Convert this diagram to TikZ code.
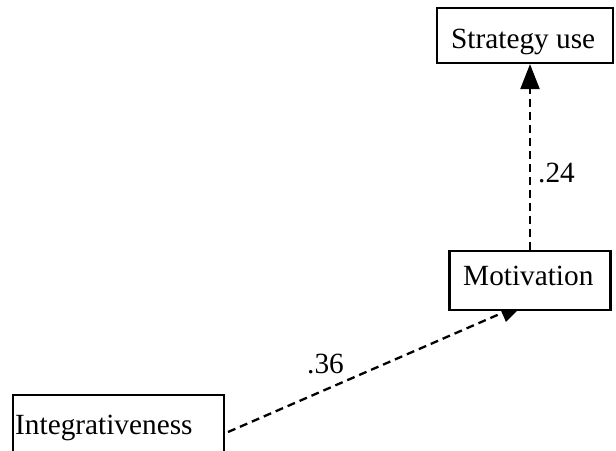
\documentclass[tikz,border=0pt]{standalone}
\usepackage{fontspec}
\setmainfont{Liberation Serif}
\usetikzlibrary{arrows.meta,backgrounds}
\begin{document}
\begin{tikzpicture}[x=1pt,y=-1pt,
  box/.style={draw=black,line width=2.2pt,fill=white,rectangle,inner sep=0pt},
  txt/.style={inner sep=0pt,anchor=base west,font=\fontsize{29.3}{32}\selectfont},
  conn/.style={line width=2.3pt,dash pattern=on 8pt off 5pt,
    -{Triangle[length=25pt,width=19pt]}}]
\useasboundingbox (0,0) rectangle (616,450);
\clip (0,0) rectangle (616,450);
% boxes
\node[box,minimum width=176pt,minimum height=55pt] (strat) at (525,35.5) {};
\node[box,minimum width=161pt,minimum height=59pt] (mot) at (530,280.5) {};
\node[box,minimum width=211pt,minimum height=80pt] (integ) at (118.5,435) {};
% texts
\node[txt] (tstrat) at (451,48) {Strategy use};
\node[txt] (tmot) at (463,285) {Motivation};
\node[txt] (tinteg) at (15,434) {Integrativeness};
\node[txt] (l24) at (538,182) {.24};
\node[txt] (l36) at (307,373) {.36};
% connector end points
\coordinate (s1) at (228,432);
\coordinate (e1) at (525,303);
\begin{pgfonlayer}{background}
\draw[conn] (mot.north) -- (strat.south -| mot.north);
\draw[conn] (s1) -- (e1);
\end{pgfonlayer}
\end{tikzpicture}
\end{document}
